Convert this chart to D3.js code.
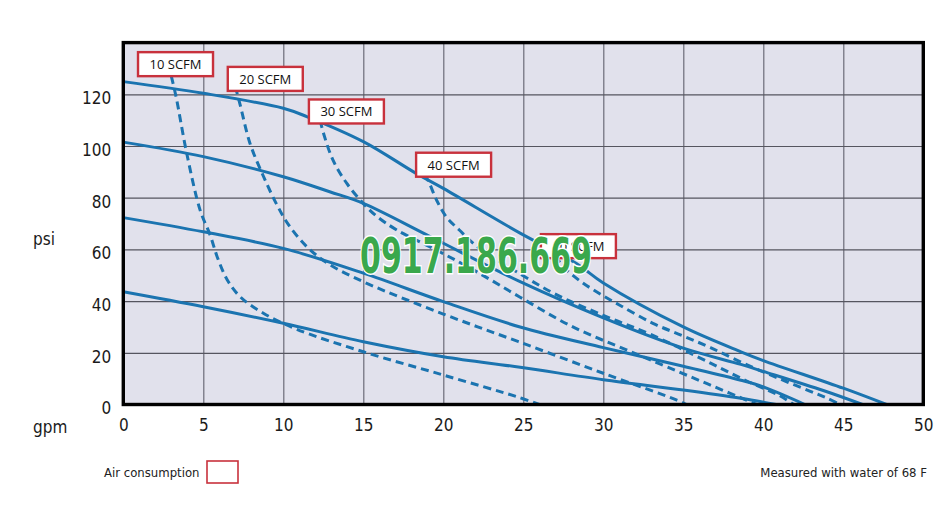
<!DOCTYPE html>
<html><head><meta charset="utf-8">
<script src="https://cdn.jsdelivr.net/npm/d3@7"></script>
<style>
html,body{margin:0;padding:0;background:#fff;}
svg{display:block;}
</style></head>
<body>
<svg id="chart" width="952" height="509"></svg>
<script>
// ---- data ----
const xTicks = [0,5,10,15,20,25,30,35,40,45,50];
const yTicks = [0,20,40,60,80,100,120];

// solid performance curves (gpm, psi)
const solid1 = [[0,124.9],[5,120.4],[10,114.6],[11.5,111.3],[15,101.7],[18.3,89.4],[20,83.6],[24.8,66.3],[28.3,54.6],[30,47],[35,30],[38.6,20.4],[40,17],[45,6.3],[47.7,0]];
const solid2 = [[0,101.5],[5,95.9],[10,88.1],[12.9,82.3],[15,77.8],[19.2,64.9],[24.8,47.5],[30,33.5],[35,21.8],[38.6,15.5],[40,12.8],[43.75,5.4],[46.2,0]];
const solid3 = [[0,72.3],[5,66.8],[10,60.4],[15,50.8],[20,39.8],[24.8,30],[30,22],[35,14.8],[38.6,9.4],[40,6.8],[42.6,0]];
const solid4 = [[0,43.6],[5,37.8],[10,31.4],[15,24.3],[20,18.5],[24.8,14.4],[30,9.6],[35,5.6],[38.6,2.4],[40.8,0]];

// dashed air-consumption curves (gpm, psi)
const scfm10 = [[3.0,127],[3.3,119],[3.96,97.3],[4.8,75.2],[5.43,65.5],[5.9,56.6],[6.5,48.2],[7.3,41.7],[8.73,35.4],[10.8,29.2],[15,20.4],[20,11.4],[24.6,3],[26,0]];
const scfm20 = [[7.0,123],[7.3,116],[7.92,101],[8.75,88.4],[9.58,77.5],[10.3,69.8],[11.46,61.1],[12.8,54.5],[15,47.5],[20,35],[24.7,24.3],[30,12.1],[34.6,1.7],[35.2,0]];
const scfm30 = [[12.3,110],[12.5,105.2],[13.1,94.6],[13.96,85.6],[15,77.8],[15.8,73],[17.1,67.5],[19.8,59],[22.1,51.3],[24.8,41.5],[28.1,30],[31.7,20.5],[34,14.5],[36.7,7.5],[39.6,0]];
const scfm40 = [[18.8,89],[19.06,86.5],[19.6,78.8],[20.2,72.5],[21,67.5],[22.1,61.2],[24.8,50.5],[27.1,42.4],[30,34.5],[33,27],[36.7,16],[39,9],[41,3.5],[41.9,0]];
const scfm50 = [[27.0,57.5],[27.5,53.3],[28.5,48],[29.6,43.5],[31,38.5],[33.1,31.4],[35,26.5],[36.7,22],[38.75,16],[40.8,10.5],[42.9,5.2],[44,2.4],[44.8,0]];

const scfmLabels = ["10 SCFM","20 SCFM","30 SCFM","40 SCFM","50 SCFM"];
// label box top-left anchors in data units (gpm, psi)
const labelGpm = [0.92, 6.53, 11.6, 18.3, 26.1];
const labelPsi = [136.3, 130.6, 118.0, 97.4, 65.9];

const solids = [solid1, solid2, solid3, solid4];
const dashed = [scfm10, scfm20, scfm30, scfm40, scfm50];

// ---- drawing ----
const svg = d3.select("#chart");
const x = d3.scaleLinear().domain([0,50]).range([123.3, 923.3]);
const y = d3.scaleLinear().domain([0,140]).range([404.5, 42.6]);
const blue = "#1b74b0";
const axisFont = "'Liberation Sans Narrow','DejaVu Sans Condensed','Noto Sans',sans-serif";
const labelFont = "'Open Sans','Noto Sans',sans-serif";

// plot background
svg.append("rect").attr("x", x(0)).attr("y", y(140)).attr("width", x(50)-x(0)).attr("height", y(0)-y(140)).attr("fill", "#e1e1ec");

// grid
const gx = d3.axisBottom(x).tickValues(xTicks.slice(1,-1)).tickSize(-(y(0)-y(140))).tickFormat("");
svg.append("g").attr("transform", `translate(0,${y(0)})`).call(gx)
  .call(g => g.select(".domain").remove())
  .call(g => g.selectAll("line").attr("stroke", "#6b6b78").attr("stroke-width", 1.2));
const gy = d3.axisLeft(y).tickValues(yTicks.slice(1)).tickSize(-(x(50)-x(0))).tickFormat("");
svg.append("g").attr("transform", `translate(${x(0)},0)`).call(gy)
  .call(g => g.select(".domain").remove())
  .call(g => g.selectAll("line").attr("stroke", "#55555f").attr("stroke-width", 1.2));

// curves
const line = d3.line().x(d => x(d[0])).y(d => y(d[1])).curve(d3.curveCatmullRom.alpha(0.5));
const clipId = "plotclip";
svg.append("clipPath").attr("id", clipId).append("rect")
  .attr("x", x(0)).attr("y", y(140)).attr("width", x(50)-x(0)).attr("height", y(0)-y(140));
const curves = svg.append("g").attr("clip-path", `url(#${clipId})`);
curves.selectAll("path.dash").data(dashed).join("path").attr("class","dash")
  .attr("d", line).attr("fill","none").attr("stroke", blue).attr("stroke-width", 3)
  .attr("stroke-dasharray", "8,5");
curves.selectAll("path.solid").data(solids).join("path").attr("class","solid")
  .attr("d", line).attr("fill","none").attr("stroke", blue).attr("stroke-width", 3);

// frame
svg.append("rect").attr("x", x(0)).attr("y", y(140)).attr("width", x(50)-x(0)).attr("height", y(0)-y(140))
  .attr("fill","none").attr("stroke","#000").attr("stroke-width", 3.4);

// axis tick labels
const ax = d3.axisBottom(x).tickValues(xTicks).tickSize(0).tickPadding(14);
svg.append("g").attr("transform", `translate(0,${y(0)})`).call(ax)
  .call(g => g.select(".domain").remove())
  .call(g => g.selectAll("text").attr("font-family", axisFont).attr("font-size", 17).attr("fill", "#1a1a1a"));
const ay = d3.axisLeft(y).tickValues(yTicks).tickSize(0).tickPadding(12);
svg.append("g").attr("transform", `translate(${x(0)},4)`).call(ay)
  .call(g => g.select(".domain").remove())
  .call(g => g.selectAll("text").attr("font-family", axisFont).attr("font-size", 17).attr("fill", "#1a1a1a"));

svg.append("text").attr("x", 33).attr("y", 433).text("gpm")
  .attr("font-family", axisFont).attr("font-size", 17).attr("fill", "#1a1a1a");
svg.append("text").attr("x", 33).attr("y", 245).text("psi")
  .attr("font-family", axisFont).attr("font-size", 17).attr("fill", "#1a1a1a");

// SCFM label boxes
const lab = svg.append("g").selectAll("g").data(scfmLabels).join("g")
  .attr("transform", (d,i) => `translate(${x(labelGpm[i])},${y(labelPsi[i])})`);
lab.append("rect").attr("width", 75).attr("height", 24).attr("fill", "#fff")
  .attr("stroke", "#c8313c").attr("stroke-width", 2.4);
lab.append("text").attr("x", 37.5).attr("y", 17).attr("text-anchor", "middle").text(d => d)
  .attr("font-family", labelFont).attr("font-size", 13).attr("fill", "#111");

// watermark
svg.append("text").attr("x", 360).attr("y", 273).text("0917.186.669")
  .attr("textLength", 232).attr("lengthAdjust", "spacingAndGlyphs")
  .attr("font-family", axisFont).attr("font-weight", "bold").attr("font-size", 49)
  .attr("fill", "#3aa84c").attr("stroke", "#ffffff").attr("stroke-width", 3)
  .attr("paint-order", "stroke");

// footer
svg.append("text").attr("x", 104).attr("y", 477).text("Air consumption")
  .attr("font-family", axisFont).attr("font-size", 13).attr("fill", "#222");
svg.append("rect").attr("x", 207).attr("y", 461).attr("width", 31).attr("height", 22)
  .attr("fill", "#fff").attr("stroke", "#c8313c").attr("stroke-width", 1.6);
svg.append("text").attr("x", 927).attr("y", 477).attr("text-anchor", "end").text("Measured with water of 68 F")
  .attr("font-family", axisFont).attr("font-size", 13).attr("fill", "#222");
</script>
</body></html>
